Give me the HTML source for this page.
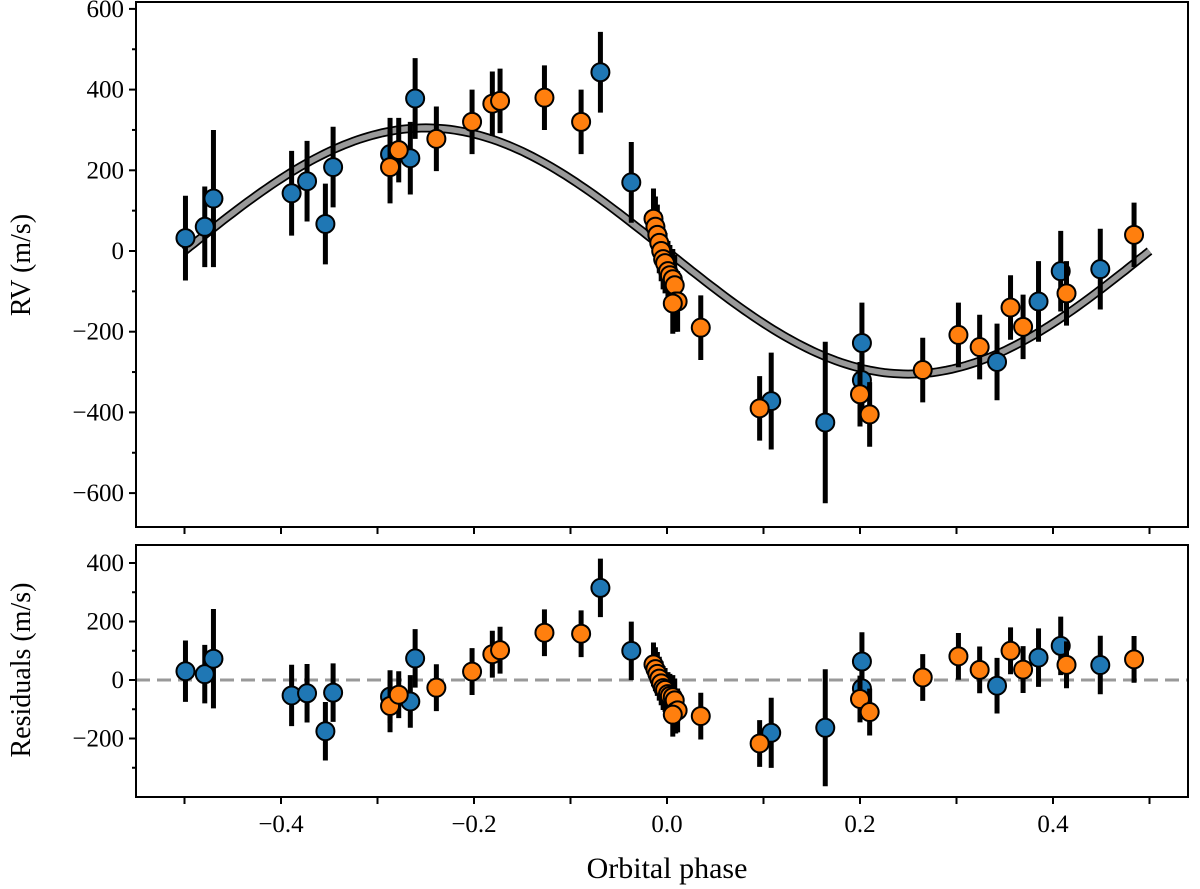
<!DOCTYPE html>
<html><head><meta charset="utf-8"><style>
body{margin:0;background:#fff}
svg{display:block;font-family:"Liberation Serif",serif}
</style></head><body>
<svg id="chart" width="1200" height="889" viewBox="0 0 1200 889"></svg>
<script>
const blueX=[-0.499,-0.479,-0.470,-0.389,-0.373,-0.354,-0.346,-0.287,-0.266,-0.261,-0.069,-0.037,0.108,0.164,0.202,0.202,0.342,0.385,0.408,0.449];
const blueRV=[32,60,130,143,173,67,208,240,230,378,443,170,-372,-425,-228,-320,-275,-125,-50,-45];
const blueErr=[105,100,170,105,100,100,100,90,90,100,100,100,120,200,100,100,95,100,100,100];
const orangeX=[-0.287,-0.278,-0.239,-0.202,-0.181,-0.173,-0.127,-0.089,-0.014,-0.012,-0.010,-0.008,-0.006,-0.004,-0.002,0.001,0.003,0.006,0.008,0.009,0.011,0.006,0.035,0.096,0.200,0.210,0.265,0.302,0.324,0.356,0.369,0.414,0.484];
const orangeRV=[208,250,278,320,365,372,380,320,80,60,40,20,0,-20,-30,-50,-60,-70,-85,-125,-125,-130,-190,-390,-355,-405,-295,-208,-238,-140,-188,-105,40];
const orangeErr=[90,80,80,80,80,80,80,80,75,75,75,75,75,75,75,75,75,75,75,75,75,75,80,80,80,80,80,80,80,80,80,80,80];
const K=305;
const xTicks=[-0.4,-0.2,0.0,0.2,0.4];
const xTickLabels=["\u22120.4","\u22120.2","0.0","0.2","0.4"];
const yTopTicks=[600,400,200,0,-200,-400,-600];
const yTopLabels=["600","400","200","0","\u2212200","\u2212400","\u2212600"];
const yBotTicks=[400,200,0,-200];
const yBotLabels=["400","200","0","\u2212200"];

const NS="http://www.w3.org/2000/svg";
const svg=document.getElementById('chart');
function mk(tag,attrs,parent){const e=document.createElementNS(NS,tag);for(const k in attrs)e.setAttribute(k,attrs[k]);(parent||svg).appendChild(e);return e;}
const L=136,R=1188;
const xs=p=>667+p*965;
const yT=v=>251-v*0.4035;
const yB=v=>680-v*0.2925;
const model=p=>-K*Math.sin(2*Math.PI*p);

let d="";for(let i=0;i<=200;i++){const p=-0.5+i/200;d+=(i?"L":"M")+xs(p).toFixed(1)+","+yT(model(p)).toFixed(1);}
let c1=mk('path',{d:d,fill:'none',stroke:'#000','stroke-width':9});


let c2=mk('path',{d:d,fill:'none',stroke:'#999','stroke-width':5.5});


let zl=mk('line',{x1:L,x2:R,y1:yB(0),y2:yB(0),stroke:'#999','stroke-width':3,'stroke-dasharray':'14 7'});



function series(X,RV,E,color,name){
  for(let i=0;i<X.length;i++){
    const x=xs(X[i]);
    const b=mk('line',{x1:x,x2:x,y1:yT(RV[i]-E[i]),y2:yT(RV[i]+E[i]),stroke:'#000','stroke-width':5});
    
    
    const res=RV[i]-model(X[i]);
    const b2=mk('line',{x1:x,x2:x,y1:yB(res-E[i]),y2:yB(res+E[i]),stroke:'#000','stroke-width':5});
    
    
  }
  for(let i=0;i<X.length;i++){
    const x=xs(X[i]);
    const p=mk('circle',{cx:x,cy:yT(RV[i]),r:9,fill:color,stroke:'#000','stroke-width':2});
    
    
    const res=RV[i]-model(X[i]);
    const q=mk('circle',{cx:x,cy:yB(res),r:9,fill:color,stroke:'#000','stroke-width':2});
    
    
  }
}
series(blueX,blueRV,blueErr,'#1f77b4','blue');
series(orangeX,orangeRV,orangeErr,'#ff7f0e','orange');

let f1=mk('rect',{x:L,y:2,width:R-L,height:525,fill:'none',stroke:'#000','stroke-width':2});


let f2=mk('rect',{x:L,y:545,width:R-L,height:252,fill:'none',stroke:'#000','stroke-width':2});



for(let k=-5;k<=5;k++){const x=xs(k/10);
  let t=mk('line',{x1:x,x2:x,y1:527,y2:534,stroke:'#000','stroke-width':2});
  
  
  let t2=mk('line',{x1:x,x2:x,y1:797,y2:804,stroke:'#000','stroke-width':2});
  
  
}
xTicks.forEach((v,i)=>{let t=mk('text',{x:xs(v),y:832,'font-size':25,'text-anchor':'middle'});t.textContent=xTickLabels[i];
  
  });
for(let v=-600;v<=600;v+=100){let t=mk('line',{x1:v%200?132:129,x2:L,y1:yT(v),y2:yT(v),stroke:'#000','stroke-width':2});
  
  }
yTopTicks.forEach((v,i)=>{let t=mk('text',{x:124,y:yT(v)+8,'font-size':25,'text-anchor':'end'});t.textContent=yTopLabels[i];
  
  });
for(let v=-300;v<=400;v+=100){let t=mk('line',{x1:v%200?132:129,x2:L,y1:yB(v),y2:yB(v),stroke:'#000','stroke-width':2});
  
  }
yBotTicks.forEach((v,i)=>{let t=mk('text',{x:124,y:yB(v)+8,'font-size':25,'text-anchor':'end'});t.textContent=yBotLabels[i];
  
  });
</script>
<svg style="position:absolute;left:0;top:0" width="1200" height="889">
<text transform="translate(30,265) rotate(-90)" font-size="28" text-anchor="middle" font-family="Liberation Serif,serif">RV (m/s)</text>
<text transform="translate(30,670) rotate(-90)" font-size="28" text-anchor="middle" font-family="Liberation Serif,serif">Residuals (m/s)</text>
<text x="667" y="878" font-size="30" text-anchor="middle" font-family="Liberation Serif,serif">Orbital phase</text>
</svg>
</body></html>
